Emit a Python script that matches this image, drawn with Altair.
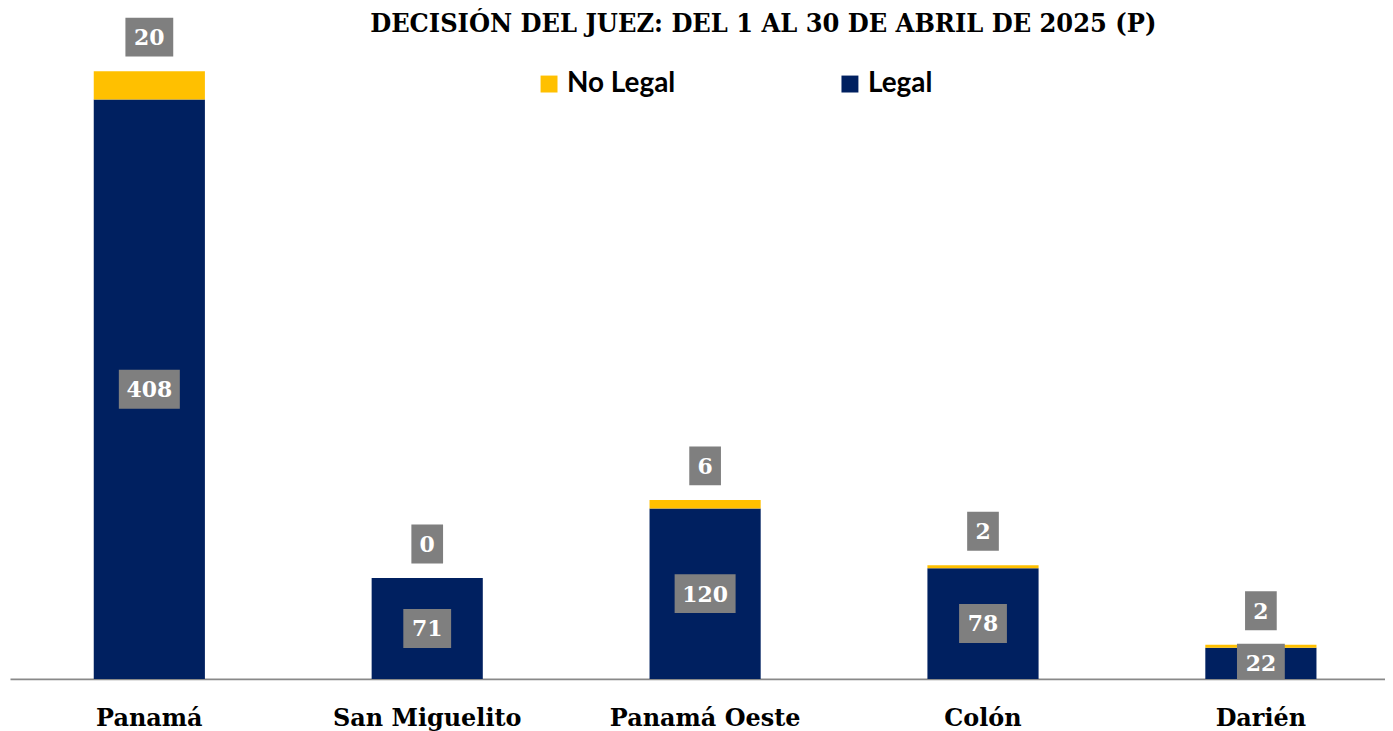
import altair as alt
import pandas as pd

categories = ["Panamá", "San Miguelito", "Panamá Oeste", "Colón", "Darién"]
legal = [408, 71, 120, 78, 22]
no_legal = [20, 0, 6, 2, 2]
series_names = ["No Legal", "Legal"]
series_colors = ["#FFC000", "#002060"]
title_text = "DECISIÓN DEL JUEZ: DEL 1 AL 30 DE ABRIL DE 2025 (P)"

rows = []
for c, l, n in zip(categories, legal, no_legal):
    rows.append({"region": c, "estado": "Legal", "valor": l, "orden": 0})
    rows.append({"region": c, "estado": "No Legal", "valor": n, "orden": 1})
long_df = pd.DataFrame(rows)
wide_df = pd.DataFrame({"region": categories, "legal": legal, "no_legal": no_legal})

box_paths = [
    "M-0.53,-0.65H0.53V0.65H-0.53Z",
    "M-0.8,-0.65H0.8V0.65H-0.8Z",
    "M-1.02,-0.65H1.02V0.65H-1.02Z",
]

xscale = alt.Scale(paddingInner=0.6, paddingOuter=0.274, align=0.55)
xaxis = alt.Axis(title=None, labelAngle=0, ticks=False, domainColor="#898989",
                 domainWidth=2, labelFont="DejaVu Serif", labelFontWeight="bold",
                 labelFontSize=24, labelColor="#000000", labelPadding=28, grid=False,
                 labelLimit=0)
x = alt.X("region:N", sort=categories, scale=xscale, axis=xaxis)
yscale = alt.Scale(domain=[0, 440], nice=False)
shape_scale = alt.Scale(domain=["1", "2", "3"], range=box_paths)

bars = alt.Chart(long_df).mark_bar(opacity=1).encode(
    x=x,
    y=alt.Y("valor:Q", stack="zero", scale=yscale, axis=None),
    color=alt.Color("estado:N", scale=alt.Scale(domain=series_names, range=series_colors),
                    legend=alt.Legend(title=None, orient="none", legendX=527, legendY=16,
                                      direction="horizontal", symbolType="square",
                                      symbolSize=289, symbolStrokeWidth=0,
                                      labelFont="Lato", labelFontWeight="bold",
                                      labelFontSize=28, labelColor="#000000",
                                      columnPadding=161, labelOffset=4, padding=0,
                                      symbolOpacity=1, labelLimit=0)),
    order=alt.Order("orden:Q"),
)

base = alt.Chart(wide_df).transform_calculate(
    mid="datum.legal / 2",
    top="datum.legal + datum.no_legal + 24",
    nd_l="toString(length(toString(datum.legal)))",
    nd_n="toString(length(toString(datum.no_legal)))",
)

box_l = base.mark_point(filled=True, opacity=1, size=3600, color="#7F7F7F",
                        strokeWidth=0, clip=True).encode(
    x=x, y=alt.Y("mid:Q", scale=yscale, axis=None),
    shape=alt.Shape("nd_l:N", scale=shape_scale, legend=None))
box_n = base.mark_point(filled=True, opacity=1, size=3600, color="#7F7F7F",
                        strokeWidth=0).encode(
    x=x, y=alt.Y("top:Q", scale=yscale, axis=None),
    shape=alt.Shape("nd_n:N", scale=shape_scale, legend=None))

txt_style = dict(font="DejaVu Serif", fontWeight="bold", fontSize=22, color="white",
                 baseline="middle", align="center", dy=1)
text_l = base.mark_text(**txt_style).encode(
    x=x, y=alt.Y("mid:Q", scale=yscale, axis=None), text="legal:Q")
text_n = base.mark_text(**txt_style).encode(
    x=x, y=alt.Y("top:Q", scale=yscale, axis=None), text="no_legal:Q")

chart = alt.layer(bars, box_l, box_n, text_l, text_n).properties(
    width=1380, height=627,
    padding={"left": 2, "top": 45, "right": 0, "bottom": 51},
    autosize=alt.AutoSizeParams(type="none"),
    title=alt.TitleParams(title_text, font="DejaVu Serif Condensed", fontWeight="bold",
                          fontSize=27, color="#000000", anchor="middle", dx=66, offset=-20),
).configure_view(stroke=None)

chart.save("out.html", embed_options={"renderer": "svg", "actions": False})
